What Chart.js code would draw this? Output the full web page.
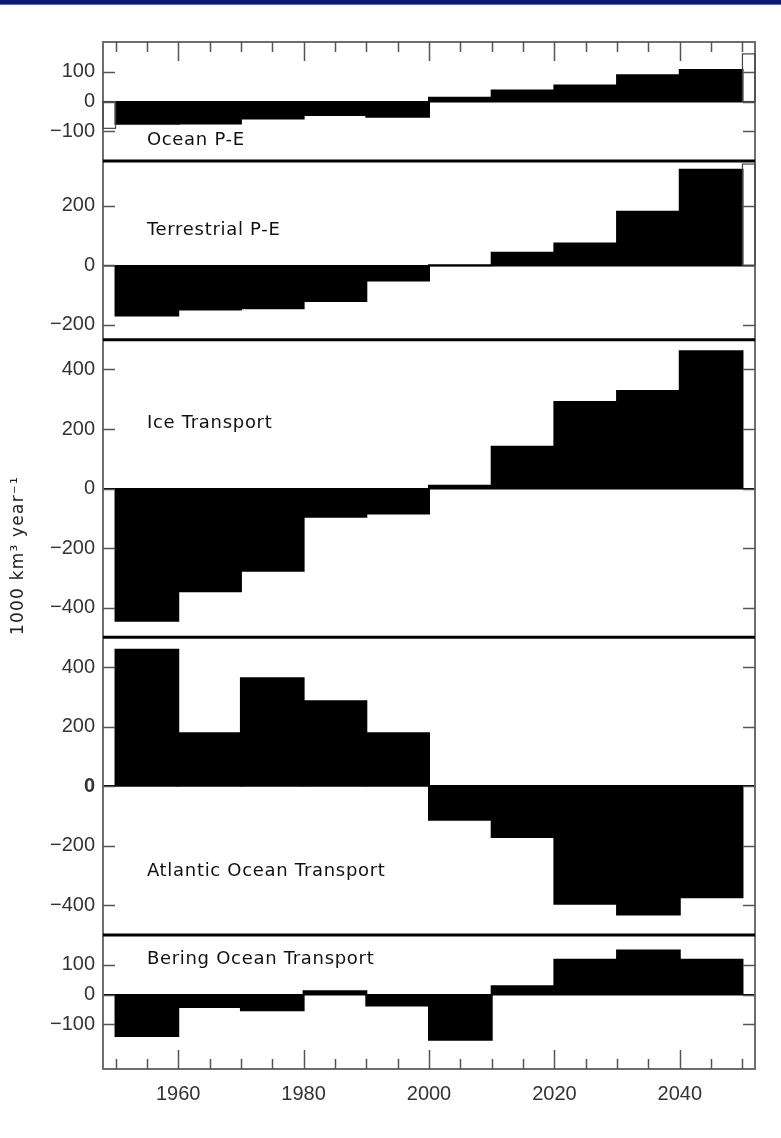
<!DOCTYPE html>
<html>
<head>
<meta charset="utf-8">
<title>Arctic freshwater budget</title>
<script src="https://cdn.jsdelivr.net/npm/chart.js@4.4.1/dist/chart.umd.min.js"></script>
<style>
  html, body { margin: 0; padding: 0; background: #fff; }
  #wrap { position: relative; width: 781px; height: 1138px; }
  #band { position: absolute; left: 0; top: 0; width: 781px; height: 4px; background: #0a1968; border-bottom: 1px solid #5a6db0; }
  canvas { display: block; }
</style>
</head>
<body>
<div id="wrap">
  <canvas id="budget" width="781" height="1138"></canvas>
  <div id="band"></div>
</div>
<script>
// decade bins, plotted at their mid-year
const decades = [1955, 1965, 1975, 1985, 1995, 2005, 2015, 2025, 2035, 2045];

// 1000 km^3 per year
const oceanPE     = [-75, -74, -57, -45, -51, 13, 37, 54, 88, 106];
const terrPE      = [-169, -149, -144, -120, -51, 0, 42, 73, 180, 321];
const iceTrans    = [-444, -345, -276, -95, -84, 9, 140, 291, 328, 461];
const atlTrans    = [458, 178, 363, 285, 178, -113, -171, -395, -431, -373];
const beringTrans = [-139, -42, -53, 11, -37, -152, 28, 117, 148, 117];

// leftover histogram steps before the first / after the last bin
const oceanEdges = [-90, 160];
const terrEdges  = [null, 340];

// tick labels
const yearTicks   = [1960, 1980, 2000, 2020, 2040];
const oceanTicks  = [-100, 0, 100];
const terrTicks   = [-200, 0, 200];
const iceTicks    = [-400, -200, 0, 200, 400];
const atlTicks    = [-400, -200, 0, 200, 400];
const beringTicks = [-100, 0, 100];

const FRAME = '#6e6e6e';
const TICK = '#555';
const TICK_FONT = '"Liberation Sans", Arial, sans-serif';
const TEXT_FONT = '"DejaVu Sans", sans-serif';
const MINOR_STEP = 5;
const LABEL_YEAR = 1955;

const panels = [
    { id: 'yOcean',  label: 'Ocean P-E',                values: oceanPE,     ticks: oceanTicks,  min: -200, max: 200, labelAt: -130, edges: oceanEdges },
    { id: 'yTerr',   label: 'Terrestrial P-E',          values: terrPE,      ticks: terrTicks,   min: -250, max: 350, labelAt: 118,  edges: terrEdges },
    { id: 'yIce',    label: 'Ice Transport',            values: iceTrans,    ticks: iceTicks,    min: -500, max: 500, labelAt: 220 },
    { id: 'yAtl',    label: 'Atlantic Ocean Transport', values: atlTrans,    ticks: atlTicks,    min: -500, max: 500, labelAt: -285, boldZero: true },
    { id: 'yBering', label: 'Bering Ocean Transport',   values: beringTrans, ticks: beringTicks, min: -250, max: 200, labelAt: 118 }
];

// Scales: one shared x axis, five y axes stacked into panels
const scales = {
    x: {
        type: 'linear',
        min: 1948,
        max: 2052,
        offset: false,
        grid: { display: false, offset: false },
        border: { display: true, color: FRAME, width: 2 },
        afterBuildTicks: s => { s.ticks = yearTicks.map(v => ({ value: v })); },
        ticks: {
            color: '#333',
            padding: 5,
            maxRotation: 0,
            font: { family: TICK_FONT, size: 20 },
            callback: v => String(v)
        },
        afterFit: s => { s.height = 69; s.paddingLeft = 0; s.paddingRight = 0; }
    }
};

panels.forEach((p, i) => {
    scales[p.id] = {
        type: 'linear',
        position: 'left',
        stack: 'panels',
        stackWeight: p.max - p.min,
        weight: panels.length - i,
        min: p.min,
        max: p.max,
        offset: false,
        afterBuildTicks: s => { s.ticks = p.ticks.map(v => ({ value: v })); },
        grid: {
            drawTicks: false,
            lineWidth: 1.5,
            color: c => (c.tick && c.tick.value === 0) ? '#000' : 'rgba(0,0,0,0)'
        },
        border: { display: true, color: FRAME, width: 2 },
        ticks: {
            padding: 8,
            color: '#333',
            font: c => ({
                family: TICK_FONT,
                size: 20,
                weight: (p.boldZero && c.tick && c.tick.value === 0) ? 'bold' : 'normal'
            }),
            callback: v => v < 0 ? '\u2212' + Math.abs(v) : String(v)
        },
        afterFit: s => { s.width = 103; s.paddingTop = 0; s.paddingBottom = 0; }
    };
});

const datasets = panels.map(p => ({
    label: p.label,
    data: decades.map((yr, i) => ({ x: yr, y: p.values[i] })),
    xAxisID: 'x',
    yAxisID: p.id,
    backgroundColor: '#000',
    borderWidth: 0,
    inflateAmount: 1,
    barPercentage: 1,
    categoryPercentage: 1,
    grouped: false
}));

// IDL-style frame: inward ticks, panel separators, labels
const idlFrame = {
    id: 'idlFrame',
    afterDraw(chart) {
        const { ctx, chartArea: a, scales: sc } = chart;
        const xs = sc.x;
        const half = (decades[1] - decades[0]) / 2;

        ctx.save();

        // top and right frame
        ctx.strokeStyle = FRAME;
        ctx.lineWidth = 2;
        ctx.beginPath();
        ctx.moveTo(a.left, a.top);
        ctx.lineTo(a.right, a.top);
        ctx.lineTo(a.right, a.bottom);
        ctx.stroke();

        // x ticks, bottom and top
        ctx.strokeStyle = TICK;
        ctx.lineWidth = 1.5;
        for (let yr = decades[0] - half; yr <= decades[decades.length - 1] + half; yr += MINOR_STEP) {
            const px = Math.round(xs.getPixelForValue(yr)) + 0.5;
            const len = yearTicks.includes(yr) ? 19 : 10;
            ctx.beginPath();
            ctx.moveTo(px, a.bottom);
            ctx.lineTo(px, a.bottom - len);
            ctx.moveTo(px, a.top);
            ctx.lineTo(px, a.top + len);
            ctx.stroke();
        }

        panels.forEach((p, i) => {
            const ys = sc[p.id];

            // inward y ticks on both sides
            ctx.strokeStyle = TICK;
            ctx.lineWidth = 1.5;
            ys.ticks.forEach(t => {
                const py = Math.round(ys.getPixelForValue(t.value)) + 0.5;
                ctx.beginPath();
                ctx.moveTo(a.left, py);
                ctx.lineTo(a.left + 12, py);
                ctx.moveTo(a.right, py);
                ctx.lineTo(a.right - 12, py);
                ctx.stroke();
            });

            // edge steps
            if (p.edges) {
                const y0 = ys.getPixelForValue(0);
                ctx.strokeStyle = '#444';
                ctx.lineWidth = 1.2;
                if (p.edges[0] !== null) {
                    const x0 = xs.getPixelForValue(xs.min);
                    const x1 = xs.getPixelForValue(decades[0] - half);
                    ctx.strokeRect(x0, y0, x1 - x0, ys.getPixelForValue(p.edges[0]) - y0);
                }
                if (p.edges[1] !== null) {
                    const x0 = xs.getPixelForValue(decades[decades.length - 1] + half);
                    const x1 = xs.getPixelForValue(xs.max);
                    ctx.strokeRect(x0, y0, x1 - x0, ys.getPixelForValue(p.edges[1]) - y0);
                }
            }

            // panel separator
            if (i > 0) {
                ctx.strokeStyle = '#000';
                ctx.lineWidth = 3;
                ctx.beginPath();
                ctx.moveTo(a.left, ys.top);
                ctx.lineTo(a.right, ys.top);
                ctx.stroke();
            }

            // panel label
            ctx.fillStyle = '#111';
            ctx.font = '18px ' + TEXT_FONT;
            ctx.letterSpacing = '0.7px';
            ctx.textAlign = 'left';
            ctx.textBaseline = 'middle';
            ctx.fillText(p.label, xs.getPixelForValue(LABEL_YEAR), ys.getPixelForValue(p.labelAt));
        });

        // y axis title
        ctx.translate(19, (a.top + a.bottom) / 2);
        ctx.rotate(-Math.PI / 2);
        ctx.fillStyle = '#222';
        ctx.font = '17px ' + TEXT_FONT;
        ctx.letterSpacing = '1.2px';
        ctx.textAlign = 'center';
        ctx.textBaseline = 'middle';
        ctx.fillText('1000 km\u00b3 year\u207b\u00b9', 0, 0);

        ctx.restore();
    }
};

new Chart(document.getElementById('budget').getContext('2d'), {
    type: 'bar',
    data: { datasets: datasets },
    options: {
        responsive: false,
        animation: false,
        layout: { padding: { top: 42, right: 26, left: 0, bottom: 0 } },
        plugins: {
            legend: { display: false },
            tooltip: { enabled: false }
        },
        scales: scales
    },
    plugins: [idlFrame]
});
</script>
</body>
</html>
